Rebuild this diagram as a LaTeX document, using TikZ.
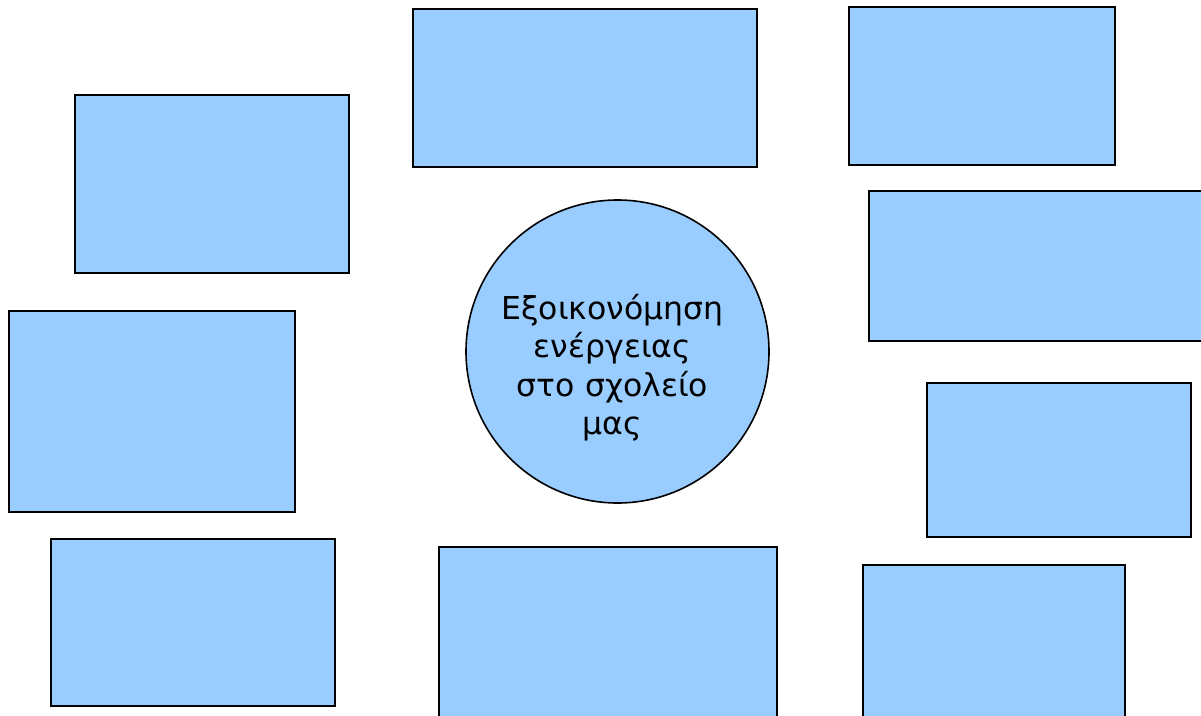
\documentclass[tikz,border=0pt]{standalone}
\usepackage{fontspec}
\setmainfont{DejaVu Sans}
\usepackage{xcolor}
\definecolor{MapBlue}{HTML}{99CCFF}
\tikzset{
  mapbox/.style={draw=black,fill=MapBlue,line width=1.6pt,rectangle,anchor=north west,inner sep=0pt},
  hubnode/.style={draw=black,fill=MapBlue,line width=1.6pt,ellipse,inner sep=0pt,
    minimum width=303pt,minimum height=303pt},
  hubtext/.style={align=center,inner sep=0pt,font=\fontsize{31.5}{38.5}\selectfont}
}
\usetikzlibrary{shapes.geometric}

\begin{document}
\begin{tikzpicture}[x=1pt,y=-1pt]
\path[use as bounding box] (0,0) rectangle (1201,715);
\clip (0,0) rectangle (1201,715);
\node[mapbox,minimum width=344pt,minimum height=158pt] (topmid) at (412,8) {};
\node[mapbox,minimum width=266pt,minimum height=158pt] (topright) at (848,6) {};
\node[mapbox,minimum width=274pt,minimum height=178pt] (leftup) at (74,94) {};
\node[mapbox,minimum width=345pt,minimum height=150pt] (rightmid) at (868,190) {};
\node[mapbox,minimum width=286pt,minimum height=201pt] (leftmid) at (8,310) {};
\node[mapbox,minimum width=264pt,minimum height=154pt] (rightlow) at (926,382) {};
\node[mapbox,minimum width=284pt,minimum height=167pt] (leftlow) at (50,538) {};
\node[mapbox,minimum width=338pt,minimum height=180pt] (botmid) at (438,546) {};
\node[mapbox,minimum width=262pt,minimum height=160pt] (botright) at (862,564) {};
\node[hubnode] (hub) at (617.5,351.5) {};
\node[hubtext] (hublabel) at ([xshift=-5pt,yshift=-16pt]hub.center) {Εξοικονόμηση\\ενέργειας\\στο σχολείο\\μας};
\end{tikzpicture}
\end{document}
